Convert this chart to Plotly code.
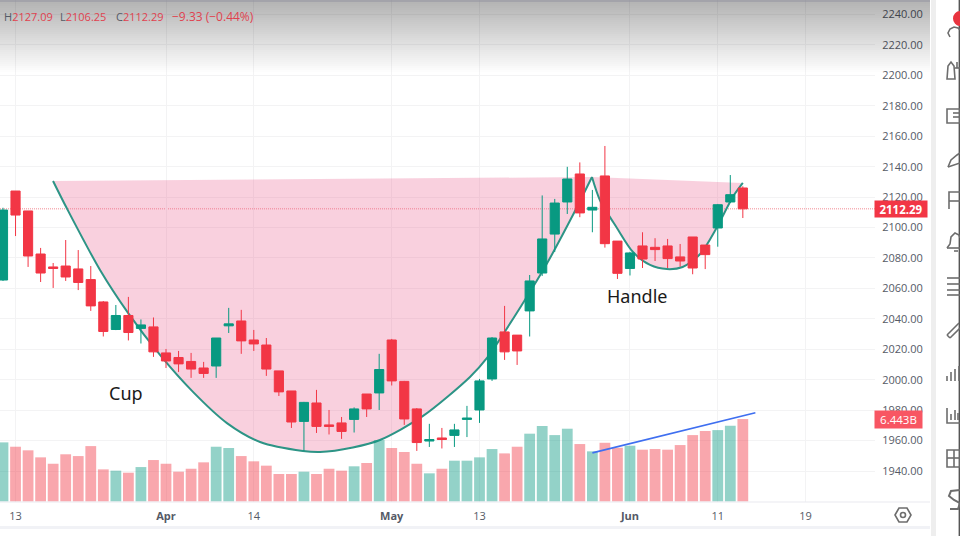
import plotly.graph_objects as go

# ---------- data ----------
opens = [2065.5,2124.0,2110.9,2082.6,2074.1,2074.7,2072.8,2065.8,2051.1,2033.0,
         2042.2,2033.7,2034.7,2017.6,2014.6,2012.0,2007.7,2009.0,2035.4,2038.6,
         2026.1,2022.8,2005.8,1992.6,1972.6,1984.7,1970.3,1971.6,1973.9,1990.6,
         1991.3,2026.1,1998.9,1980.8,1959.7,1961.7,1963.4,1973.9,1980.1,2000.5,
         2031.4,2029.3,2045.2,2070.1,2095.7,2116.8,2135.2,2111.5,2133.9,2091.1,
         2073.1,2087.9,2087.0,2087.9,2080.7,2093.8,2088.5,2099.7,2116.8,2126.0]
highs = [2113.0,2124.0,2110.9,2086.6,2076.7,2091.8,2085.2,2074.7,2051.7,2049.1,
         2054.4,2039.6,2040.9,2020.2,2018.9,2017.6,2011.7,2027.4,2047.2,2045.9,
         2032.7,2027.4,2005.8,1992.6,1985.4,1993.3,1980.1,1975.5,1981.8,1990.6,
         2017.0,2026.8,1999.2,1981.4,1971.0,1968.3,1971.0,1982.8,2000.5,2028.0,
         2048.5,2029.3,2068.8,2121.1,2118.8,2139.9,2142.8,2124.7,2153.6,2091.1,
         2084.0,2096.9,2093.0,2092.5,2089.2,2093.8,2088.5,2115.5,2134.5,2127.09]
lows = [2064.9,2094.4,2074.1,2064.2,2060.3,2064.9,2058.9,2045.2,2028.4,2032.6,
        2025.8,2023.8,2015.0,2007.7,2005.1,2001.2,2001.2,2001.2,2030.7,2017.0,
        2018.9,2002.5,1989.3,1968.3,1953.2,1965.0,1964.0,1961.1,1965.3,1975.5,
        1980.1,1996.2,1970.3,1953.2,1955.8,1954.8,1955.8,1962.3,1971.6,1999.2,
        2013.0,2009.7,2028.4,2068.2,2083.9,2108.9,2106.8,2096.9,2086.8,2066.2,
        2068.5,2073.4,2078.0,2073.4,2074.3,2069.3,2072.7,2087.4,2116.1,2106.25]
closes = [2111.5,2108.2,2081.3,2070.1,2073.1,2067.5,2063.9,2048.5,2031.7,2042.2,
          2031.0,2036.0,2018.3,2012.3,2010.4,2007.0,2004.1,2027.4,2036.7,2025.5,
          2023.5,2007.0,1992.0,1972.2,1985.1,1969.3,1969.3,1966.0,1980.8,1980.8,
          2006.7,1999.2,1974.2,1958.7,1960.7,1960.7,1967.0,1974.8,1999.2,2027.4,
          2018.3,2018.9,2064.9,2092.5,2116.1,2131.9,2109.6,2113.3,2089.4,2069.9,
          2083.3,2079.3,2085.5,2079.6,2078.0,2073.4,2082.2,2115.0,2121.6,2112.29]
volumes = [4.62,4.28,4.00,3.45,2.95,3.69,3.55,4.33,2.51,2.41,
           2.25,2.69,3.24,2.95,2.33,2.56,3.06,4.28,4.18,3.55,
           3.14,2.80,2.15,2.15,2.33,2.15,2.56,2.41,2.75,3.01,
           4.80,4.18,3.87,2.95,2.20,2.56,3.19,3.19,3.45,4.10,
           3.76,4.28,5.30,5.90,5.19,5.69,4.49,3.92,4.59,4.20,
           4.36,4.05,4.10,4.05,4.41,5.19,5.51,5.58,5.92,6.443]
bar_index = list(range(len(closes)))

cup_x = [3.99,5.08,7.74,9.97,12.52,15.15,17.86,20.5,23.92,25.28,27.9,30.06,33.5,37.24,38.6,41.47,43.4,45.45,46.97]
cup_y = [2130.6,2112.8,2072.1,2043.9,2016.3,1992.0,1971.5,1959.1,1953.2,1952.5,1955.5,1960.4,1976.2,2001.8,2014.3,2050.4,2076.7,2108.2,2133.2]
handle_x = [46.97,47.6,48.96,50.24,51.6,52.95,54.2,55.6,56.9,58.2,59.0]
handle_y = [2133.2,2118.1,2099.7,2083.9,2075.4,2072.7,2074.1,2082.6,2099.7,2120.1,2129.3]
vol_trend_x = [47.0,60.0]
vol_trend_y = [3.80,6.93]

price_ticks = list(range(1940,2241,20))
date_tick_index = [1,13,20,31,38,50,57,64]
date_tick_text = ["13","<b>Apr</b>","14","<b>May</b>","13","<b>Jun</b>","11","19"]

# ---------- style / layout ----------
RED, GREEN = "#F23645", "#089981"
FONT = "Open Sans"
PLOT_W, PLOT_H = 875, 502
def px(x): return x/PLOT_W
def py(y): return 1-y/PLOT_H
def rect(x0,y0,x1,y1,color,op=1):
    return dict(type="rect",xref="paper",yref="paper",x0=px(x0),x1=px(x1),y0=py(y1),y1=py(y0),
                fillcolor=color,opacity=op,line_width=0,layer="above")
def path(pts,color="#6d6d6d",w=1.6,close=False):
    d="M "+" L ".join(f"{px(a):.5f},{py(b):.5f}" for a,b in pts)+(" Z" if close else "")
    return dict(type="path",xref="paper",yref="paper",path=d,line=dict(color=color,width=w),layer="above")

shapes=[]
# top gradient
for i in range(0,72,2):
    shapes.append(rect(0,i,930,i+2,"#000000",0.30*(1-i/72)))
shapes.append(rect(0,0,930,2,"#9a9aa5",0.6))
# price line
shapes.append(dict(type="line",xref="paper",yref="y",x0=0,x1=1,y0=closes[-1],y1=closes[-1],
                   line=dict(color="#f28a92",width=1,dash="1px,1px"),layer="below"))
# frame pieces
shapes.append(rect(0,501.5,930,502.5,"#e9e9f0"))
shapes.append(rect(0,526,930,529,"#f1f2f6"))
shapes.append(rect(931,0,936,536,"#eeeeee"))
shapes.append(rect(958.6,0,960,536,"#555555"))
# settings hexagon
shapes.append(path([(895,515),(899,508),(907,508),(911,515),(907,522),(899,522)],close=True))
shapes.append(dict(type="circle",xref="paper",yref="paper",x0=px(900.5),x1=px(905.5),y0=py(517.5),y1=py(512.5),
                   line=dict(color="#6d6d6d",width=1.6),layer="above"))
# side toolbar icons
shapes.append(dict(type="circle",xref="paper",yref="paper",x0=px(953),x1=px(967),y0=py(26),y1=py(11),
                   fillcolor="#e8343f",line_width=0,layer="above"))
shapes.append(path([(950,37),(948,33),(950,29),(954,27),(958,28),(960,30)]))
shapes.append(path([(947,79),(948,66),(951,62),(954,66),(955,79)],close=True))
shapes.append(path([(955,68),(960,68)])); shapes.append(path([(957,62),(957,68)]))
shapes.append(path([(947,109),(960,109),(960,123),(947,123)],close=True))
shapes.append(path([(953,113),(960,113)])); shapes.append(path([(953,117),(960,117)]))
shapes.append(path([(948,167),(951,160),(957,155),(960,153)])); shapes.append(path([(948,167),(960,163)]))
shapes.append(path([(960,192),(949,192),(949,209)])); shapes.append(path([(949,201),(960,201)]))
shapes.append(path([(947,248),(950,244),(951,237),(955,233),(959,235),(960,238)]))
shapes.append(path([(947,248),(960,248)])); shapes.append(path([(954,251),(958,251)]))
for yy in (278,284,290,295):
    shapes.append(path([(947,yy),(960,yy)]))
shapes.append(path([(947,335),(959,323)])); shapes.append(path([(950,338),(960,328)]))
shapes.append(path([(947,335),(950,338)]))
for xx,yy in ((947,376),(951,372),(955,369),(959,366)):
    shapes.append(path([(xx,yy),(xx,381)]))
shapes.append(path([(947,408),(947,423),(960,423)]))
shapes.append(path([(951,420),(951,414)])); shapes.append(path([(955,420),(955,410)])); shapes.append(path([(958,420),(958,413)]))
shapes.append(path([(947,450),(960,450),(960,467),(947,467)],close=True))
shapes.append(path([(947,458),(960,458)])); shapes.append(path([(954,450),(954,467)]))
shapes.append(path([(960,490),(951,491),(949,496),(954,500),(960,503),(958,509),(950,509)],w=2))

vol_colors = ["rgba(8,153,129,0.44)" if c>=o else "rgba(242,54,69,0.44)" for o,c in zip(opens,closes)]
price_range=[1919.63,2249.53]

fig=go.Figure()
fig.add_trace(go.Scatter(x=cup_x,y=cup_y,mode="lines",fill="toself",fillcolor="rgba(235,98,145,0.3)",
    line=dict(color="#2d9486",width=2,shape="spline",smoothing=0.8),hoverinfo="skip",xaxis="x",yaxis="y"))
fig.add_trace(go.Scatter(x=handle_x,y=handle_y,mode="lines",fill="toself",fillcolor="rgba(235,98,145,0.3)",
    line=dict(color="#2d9486",width=2,shape="spline",smoothing=0.8),hoverinfo="skip",xaxis="x",yaxis="y"))
fig.add_trace(go.Candlestick(x=bar_index,open=opens,high=highs,low=lows,close=closes,whiskerwidth=0,
    increasing=dict(line=dict(color=GREEN,width=1),fillcolor=GREEN),
    decreasing=dict(line=dict(color=RED,width=1),fillcolor=RED),xaxis="x",yaxis="y2"))
fig.add_trace(go.Bar(x=bar_index,y=volumes,marker=dict(color=vol_colors,line_width=0),width=0.86,xaxis="x",yaxis="y3"))
fig.add_trace(go.Scatter(x=vol_trend_x,y=vol_trend_y,mode="lines",line=dict(color="#3f6ff0",width=1.6),xaxis="x",yaxis="y3"))

def ann(x,y,text,size=11,color="#555",xref="paper",yref="paper",anchor="left",**kw):
    return dict(x=x,y=y,xref=xref,yref=yref,text=text,showarrow=False,xanchor=anchor,yanchor="middle",
                font=dict(family=kw.pop("family",FONT),size=size,color=color),**kw)

LBL="#555a66"; VAL="#e0424f"
annotations=[
 ann(px(2),py(17),f'<span style="color:{LBL}">H</span>{highs[-1]:.2f}',color=VAL),
 ann(px(58),py(17),f'<span style="color:{LBL}">L</span>{lows[-1]:.2f}',color=VAL),
 ann(px(114),py(17),f'<span style="color:{LBL}">C</span>{closes[-1]:.2f}',color=VAL),
 ann(px(170),py(17),"−9.33 (−0.44%)",size=12,color=VAL),
 ann(px(107),py(393),"Cup",size=18,color="#1a1a1a",family="Noto Sans"),
 ann(px(605),py(296),"Handle",size=18,color="#1a1a1a",family="Noto Sans"),
 ann(1-1/PLOT_W,closes[-1],f"<b>{closes[-1]:.2f}</b>",size=11.5,color="white",yref="y",bgcolor=RED,
     width=52,height=16,align="center",borderpad=0),
 ann(1-1/PLOT_W,volumes[-1],f"{volumes[-1]:.3f}B",size=11.5,color="white",yref="y3",bgcolor="#f85663",
     width=47,height=17,align="center",borderpad=0),
]

common_y=dict(range=price_range,fixedrange=True)
fig.update_layout(
    width=960,height=536,autosize=False,showlegend=False,
    margin=dict(l=0,r=85,t=0,b=34,pad=0),
    paper_bgcolor="white",plot_bgcolor="white",
    font=dict(family=FONT,size=11,color="#555a66"),
    boxgap=0.27,boxgroupgap=0,bargap=0.14,
    shapes=shapes,annotations=annotations,
    xaxis=dict(range=[-0.239,69.54],tickmode="array",tickvals=date_tick_index,ticktext=date_tick_text,
        showgrid=True,gridcolor="#f3f3f4",gridwidth=1,zeroline=False,showline=False,
        ticks="outside",ticklen=4,tickcolor="white",rangeslider=dict(visible=False),
        tickfont=dict(family=FONT,size=11,color="#555a66")),
    yaxis=dict(**common_y,side="right",tickmode="array",tickvals=price_ticks,
        ticktext=[f"{v:.2f}" for v in price_ticks],showgrid=True,gridcolor="#f3f3f4",gridwidth=1,
        zeroline=False,showline=False,ticks="outside",ticklen=4,tickcolor="white",
        tickfont=dict(family=FONT,size=11,color="#555a66")),
    yaxis2=dict(**common_y,overlaying="y",visible=False),
    yaxis3=dict(range=[-0.04,39.2],overlaying="y",visible=False),
)
fig.write_html("out.html",config=dict(displayModeBar=False),
               post_script="document.body.style.margin='0';document.body.style.overflow='hidden';window.dispatchEvent(new Event('resize'));")
